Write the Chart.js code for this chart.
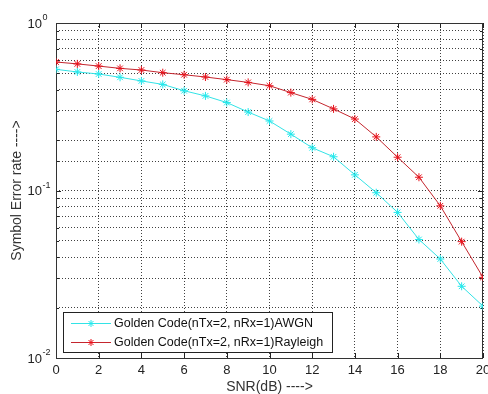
<!DOCTYPE html>
<html>
<head>
<meta charset="utf-8">
<script src="https://cdn.jsdelivr.net/npm/chart.js@4/dist/chart.umd.min.js"></script>
<style>
  html, body { margin: 0; padding: 0; background: #fff; }
  #wrap { width: 488px; height: 394px; position: relative; }
</style>
</head>
<body>
<div id="wrap"><canvas id="myChart"></canvas></div>
<script>
// SNR points (dB)
const snr = [0, 1, 2, 3, 4, 5, 6, 7, 8, 9, 10, 11, 12, 13, 14, 15, 16, 17, 18, 19, 20];

// symbol error rate
const serAwgn = [0.529, 0.510, 0.496, 0.474, 0.451, 0.430, 0.394, 0.367, 0.335, 0.294, 0.260,
                 0.217, 0.180, 0.159, 0.124, 0.097, 0.074, 0.051, 0.039, 0.0268, 0.0204];
const serRayleigh = [0.585, 0.570, 0.553, 0.536, 0.524, 0.505, 0.491, 0.476, 0.459, 0.442, 0.422,
                     0.384, 0.350, 0.307, 0.267, 0.209, 0.158, 0.120, 0.081, 0.0495, 0.0303];

const seriesLabels = ['Golden Code(nTx=2, nRx=1)AWGN', 'Golden Code(nTx=2, nRx=1)Rayleigh'];
const xTicks = [0, 2, 4, 6, 8, 10, 12, 14, 16, 18, 20];
const yDecades = [1, 0.1, 0.01];
const yDecadeExp = ['0', '-1', '-2'];

const FONT = 'Arial, "Liberation Sans", sans-serif';

// axes box with inward tick marks, like matlab
const framePlugin = {
    id: 'frame',
    beforeDatasetsDraw(chart) {
        const { ctx, chartArea: a, scales: { x, y } } = chart;
        ctx.save();
        ctx.strokeStyle = '#222';
        ctx.lineWidth = 1;
        ctx.beginPath();
        xTicks.forEach(v => {
            const px = Math.round(x.getPixelForValue(v)) + 0.5;
            ctx.moveTo(px, a.bottom); ctx.lineTo(px, a.bottom - 5);
            ctx.moveTo(px, a.top); ctx.lineTo(px, a.top + 5);
        });
        y.ticks.forEach(t => {
            const py = Math.round(y.getPixelForValue(t.value)) + 0.5;
            const len = yDecades.includes(t.value) ? 5 : 3;
            ctx.moveTo(a.left, py); ctx.lineTo(a.left + len, py);
            ctx.moveTo(a.right, py); ctx.lineTo(a.right - len, py);
        });
        ctx.stroke();
        ctx.strokeStyle = '#333';
        ctx.strokeRect(Math.round(a.left) + 0.5, Math.round(a.top) + 0.5,
                       Math.round(a.right - a.left) - 1, Math.round(a.bottom - a.top));
        ctx.restore();
    },
    afterDraw(chart) {
        // y tick labels as 10 with a raised exponent
        const { ctx, scales: { y } } = chart;
        ctx.save();
        ctx.fillStyle = '#222';
        yDecades.forEach((v, i) => {
            const py = y.getPixelForValue(v);
            ctx.font = '13px ' + FONT;
            ctx.textAlign = 'right';
            ctx.textBaseline = 'middle';
            ctx.fillText('10', 42, py + 1);
            ctx.font = '9px ' + FONT;
            ctx.textAlign = 'left';
            ctx.fillText(yDecadeExp[i], 42.5, py - 5);
        });
        ctx.restore();
    }
};

function drawStar(ctx, cx, cy, r) {
    const d = r * Math.SQRT1_2;
    ctx.beginPath();
    ctx.moveTo(cx - r, cy); ctx.lineTo(cx + r, cy);
    ctx.moveTo(cx, cy - r); ctx.lineTo(cx, cy + r);
    ctx.moveTo(cx - d, cy - d); ctx.lineTo(cx + d, cy + d);
    ctx.moveTo(cx - d, cy + d); ctx.lineTo(cx + d, cy - d);
    ctx.stroke();
}

// legend box inside the axes, bottom left
const boxLegendPlugin = {
    id: 'boxLegend',
    afterDatasetsDraw(chart) {
        const { ctx } = chart;
        const bx = 63.5, by = 312.5, bw = 269, bh = 40;
        ctx.save();
        ctx.fillStyle = '#fff';
        ctx.fillRect(bx, by, bw, bh);
        ctx.strokeStyle = '#222';
        ctx.lineWidth = 1;
        ctx.strokeRect(bx, by, bw, bh);
        ctx.font = '12.5px ' + FONT;
        ctx.textBaseline = 'middle';
        ctx.textAlign = 'left';
        chart.data.datasets.forEach((ds, i) => {
            const ly = 323.5 + i * 19;
            ctx.strokeStyle = ds.borderColor;
            ctx.beginPath();
            ctx.moveTo(71, ly); ctx.lineTo(111, ly);
            ctx.stroke();
            ctx.strokeStyle = ds.pointBorderColor;
            drawStar(ctx, 91, ly, 3.5);
            ctx.fillStyle = '#111';
            ctx.fillText(ds.label, 114, ly + 0.5);
        });
        ctx.restore();
    }
};

const ctx = document.getElementById('myChart').getContext('2d');
const chart = new Chart(ctx, {
    type: 'line',
    data: {
        datasets: [{
            label: seriesLabels[0],
            data: snr.map((s, i) => ({ x: s, y: serAwgn[i] })),
            borderColor: '#33e3e6',
            pointBorderColor: '#22e8ec',
            pointBackgroundColor: '#22e8ec',
            borderWidth: 1,
            pointStyle: 'star',
            pointRadius: 4,
            pointBorderWidth: 1,
            tension: 0
        }, {
            label: seriesLabels[1],
            data: snr.map((s, i) => ({ x: s, y: serRayleigh[i] })),
            borderColor: '#c4262e',
            pointBorderColor: '#e8101a',
            pointBackgroundColor: '#e8101a',
            borderWidth: 1,
            pointStyle: 'star',
            pointRadius: 4,
            pointBorderWidth: 1,
            tension: 0
        }]
    },
    options: {
        responsive: true,
        maintainAspectRatio: false,
        animation: false,
        events: [],
        layout: { padding: { top: 23, right: 4, left: 0, bottom: 0 } },
        plugins: {
            legend: { display: false },
            tooltip: { enabled: false }
        },
        scales: {
            x: {
                type: 'linear',
                min: 0,
                max: 20,
                // the "20" label may run off the edge, as in the original
                afterFit: s => { s.height = 36; s.paddingRight = 0; s.paddingLeft = 0; },
                grid: { color: 'rgba(0,0,0,0.75)', drawTicks: false, lineWidth: 1 },
                border: { display: false, dash: [1, 2] },
                ticks: {
                    stepSize: 2,
                    padding: 5,
                    color: '#222',
                    font: { family: FONT, size: 13 }
                },
                title: {
                    display: true,
                    text: 'SNR(dB) ---->',
                    color: '#333',
                    padding: { top: 0, bottom: 0 },
                    font: { family: FONT, size: 14, lineHeight: 1 }
                }
            },
            y: {
                type: 'logarithmic',
                min: 0.01,
                max: 1,
                afterFit: s => { s.width = 56; },
                grid: { color: 'rgba(0,0,0,0.75)', drawTicks: false, lineWidth: 1 },
                border: { display: false, dash: [1, 2] },
                ticks: {
                    autoSkip: false,
                    callback: () => '',
                    font: { family: FONT, size: 13 }
                },
                title: {
                    display: true,
                    text: 'Symbol Error rate ---->',
                    color: '#333',
                    padding: { top: 10, bottom: 0 },
                    font: { family: FONT, size: 14, lineHeight: 1 }
                }
            }
        }
    },
    plugins: [framePlugin, boxLegendPlugin]
});
</script>
</body>
</html>
